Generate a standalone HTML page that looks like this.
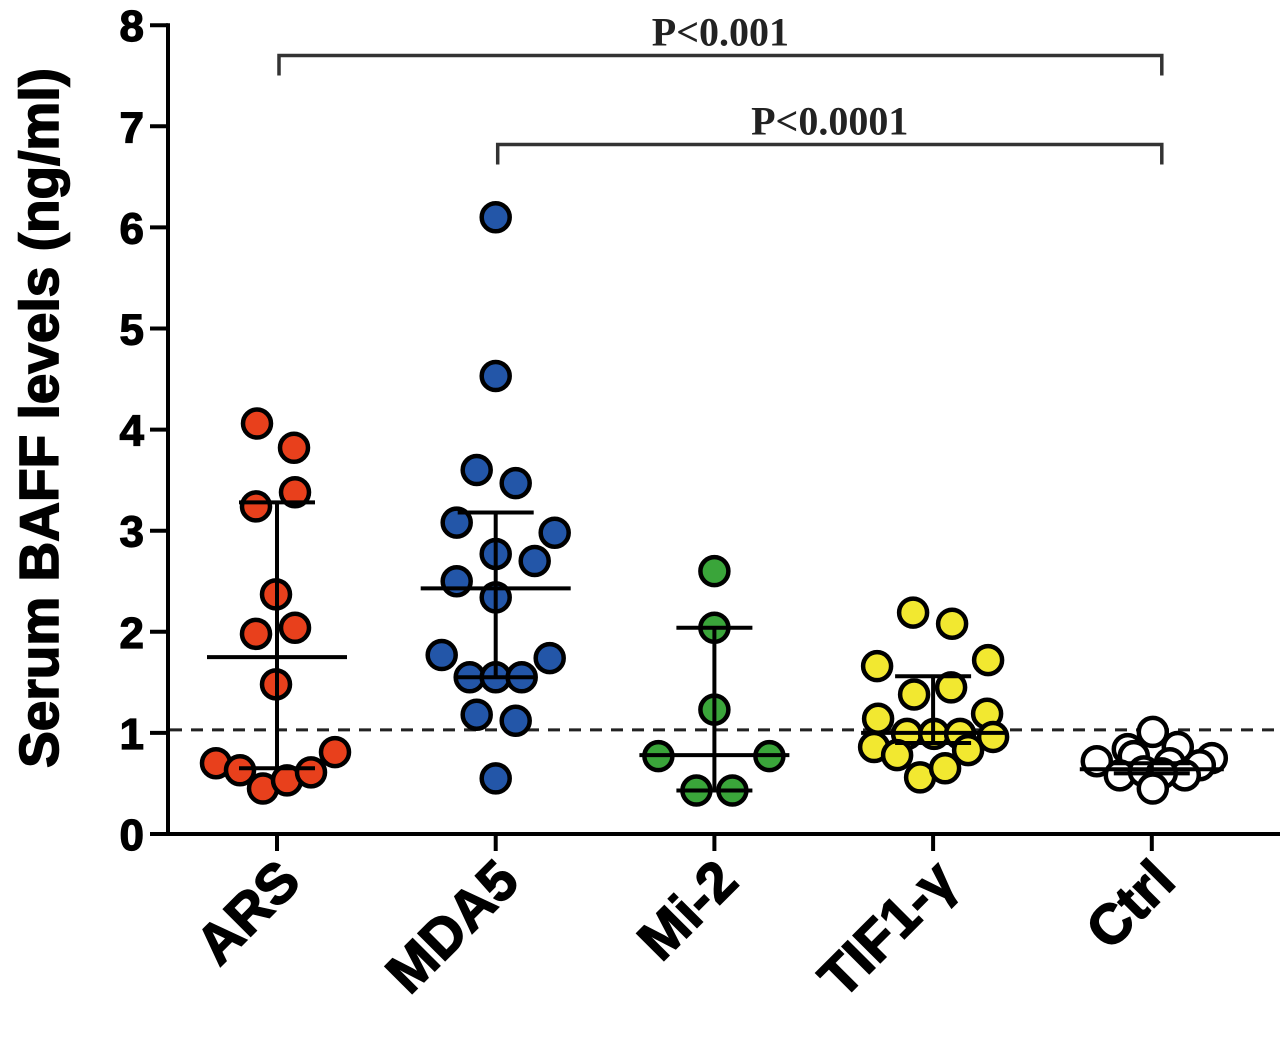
<!DOCTYPE html>
<html><head><meta charset="utf-8"><style>
body{margin:0;background:#fff}
svg{display:block}
text{font-family:"Liberation Sans",Arial,sans-serif;font-weight:bold}
</style></head><body>
<svg id="chart" width="1280" height="1043" xmlns="http://www.w3.org/2000/svg"></svg>
<script>
const categories=["ARS","MDA5","Mi-2","TIF1-γ","Ctrl"];
const fills=["#e8401c","#2356a8","#3aa53a","#f2e830","#ffffff"];
const arsValues=[4.06,3.82,3.38,3.24,2.37,2.04,1.98,1.48,0.70,0.63,0.45,0.53,0.61,0.81];
const arsOffsets=[-20,17,18,-21,-1,18,-21,-1,-61,-37,-14,10,34,58];
const mda5Values=[6.1,4.53,3.6,3.47,3.08,2.98,2.77,2.7,2.5,2.34,1.77,1.74,1.55,1.55,1.55,1.18,1.12,0.55];
const mda5Offsets=[0,0,-19,20,-39,59,0,39,-39,0,-54,54,-26,0,26,-19,20,0];
const mi2Values=[2.6,2.04,1.23,0.77,0.77,0.43,0.43];
const mi2Offsets=[0,0,0,-56,55,-18,18];
const tifValues=[2.19,2.08,1.66,1.72,1.38,1.45,1.14,1.19,0.99,0.99,0.99,0.96,0.86,0.78,0.83,0.56,0.65];
const tifOffsets=[-20,19,-56,55,-19,18,-55,54,-26,1,27,60,-59,-36,35,-13,12];
const ctrlValues=[1.01,0.86,0.84,0.77,0.72,0.75,0.68,0.70,0.58,0.58,0.62,0.60,0.45];
const ctrlOffsets=[1,26,-24,-18,-55,60,48,18,-32,33,-8,10,1];
const medians=[1.75,2.43,0.78,1.0,0.64];
const lowerIQR=[0.65,1.55,0.43,0.9,0.6];
const upperIQR=[3.28,3.18,2.04,1.56,0.7];
const yTicks=[0,1,2,3,4,5,6,7,8];
const cutoff=1.03;
const pLabels=["P<0.001","P<0.0001"];
const pFrom=[0,1];
const pTo=[4,4];
const pLevel=[7.70,6.82];

const allValues=[arsValues,mda5Values,mi2Values,tifValues,ctrlValues];
const allOffsets=[arsOffsets,mda5Offsets,mi2Offsets,tifOffsets,ctrlOffsets];
const NS="http://www.w3.org/2000/svg";
const svg=document.getElementById('chart');
const Y0=834, PX=101.1;
const yS=v=>Y0-v*PX;
const xS=i=>277+i*218.7;
function mk(tag,attrs,parent){const e=document.createElementNS(NS,tag);for(const k in attrs)e.setAttribute(k,attrs[k]);(parent||svg).appendChild(e);return e;}

let ya=mk('line',{x1:168,y1:yS(8)-2,x2:168,y2:Y0+2,stroke:'#000','stroke-width':4});


let xa=mk('line',{x1:166,y1:Y0,x2:1280,y2:Y0,stroke:'#000','stroke-width':4});


yTicks.forEach(t=>{
  let tk=mk('line',{x1:150,y1:yS(t),x2:168,y2:yS(t),stroke:'#000','stroke-width':4});
  
  
  let lb=mk('text',{x:144,y:yS(t)+16,'text-anchor':'end','font-size':44,stroke:'#000','stroke-width':1.2});
  lb.textContent=t;
  
  
});
let yt=mk('text',{x:0,y:0,'text-anchor':'middle','font-size':55,stroke:'#000','stroke-width':1.6,transform:'translate(58,418) rotate(-90)'});
yt.textContent='Serum BAFF levels (ng/ml)';



let cl=mk('line',{x1:170,y1:yS(cutoff),x2:1280,y2:yS(cutoff),stroke:'#222','stroke-width':3,'stroke-dasharray':'12,9'});



categories.forEach((c,i)=>{
  const cx=xS(i);
  let tk=mk('line',{x1:cx,y1:Y0,x2:cx,y2:Y0+17,stroke:'#000','stroke-width':4});
  
  
  let lb=mk('text',{x:0,y:0,'text-anchor':'end','font-size':56,stroke:'#000','stroke-width':1.5,transform:`translate(${cx+26},${Y0+50}) rotate(-45)`});
  lb.textContent=c;
  
  
  const g=mk('g',{});
  
  
  allValues[i].forEach((v,j)=>{
    let p=mk('circle',{cx:cx+allOffsets[i][j],cy:yS(v),r:14,fill:fills[i],stroke:'#000','stroke-width':4.5},g);
    
    
  });
  const w=[70,75,75,72,72][i], hw=38;
  const e=mk('g',{stroke:'#000','stroke-width':4},g);
  
  
  mk('line',{x1:cx-w,y1:yS(medians[i]),x2:cx+w,y2:yS(medians[i])},e);
  mk('line',{x1:cx,y1:yS(lowerIQR[i]),x2:cx,y2:yS(upperIQR[i])},e);
  mk('line',{x1:cx-hw,y1:yS(lowerIQR[i]),x2:cx+hw,y2:yS(lowerIQR[i])},e);
  mk('line',{x1:cx-hw,y1:yS(upperIQR[i]),x2:cx+hw,y2:yS(upperIQR[i])},e);
});

pLabels.forEach((l,k)=>{
  const x1=xS(pFrom[k])+2,x2=xS(pTo[k])+10,y=yS(pLevel[k]);
  let b=mk('path',{d:`M${x1},${y+20}V${y}H${x2}V${y+20}`,fill:'none',stroke:'#333','stroke-width':3.5});
  
  
  let t=mk('text',{x:(x1+x2)/2,y:y-10,'text-anchor':'middle','font-size':40,fill:'#222',style:'font-family:"Liberation Serif",serif'});
  t.textContent=l;
  
  
});
</script>
</body></html>
